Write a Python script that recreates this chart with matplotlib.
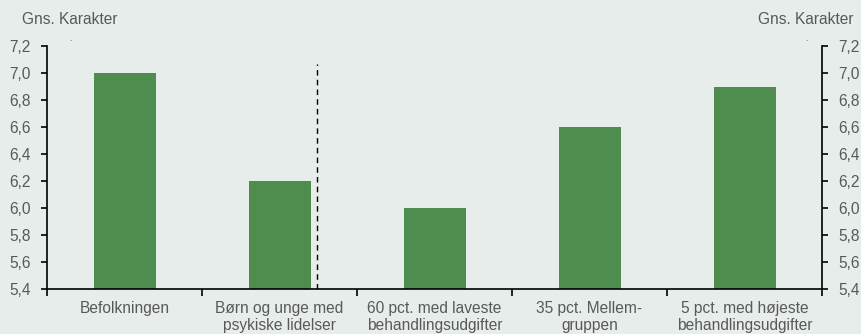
import matplotlib.pyplot as plt
import numpy as np

plt.rcParams["font.family"] = ["Liberation Sans", "DejaVu Sans"]

CATEGORIES = [
    "Befolkningen",
    "Børn og unge med\npsykiske lidelser",
    "60 pct. med laveste\nbehandlingsudgifter",
    "35 pct. Mellem-\ngruppen",
    "5 pct. med højeste\nbehandlingsudgifter",
]
GRADES = [7.0, 6.2, 6.0, 6.6, 6.9]
Y_TICKS = [5.4, 5.6, 5.8, 6.0, 6.2, 6.4, 6.6, 6.8, 7.0, 7.2]
DIVIDER_X = 1.24
DIVIDER_TOP = 7.07

BG = "#e7edeb"
BAR = "#4f8d4e"
TXT = "#595959"
FS = 11.2

fig = plt.figure(figsize=(8.61, 3.34), dpi=100, facecolor=BG)
ax = fig.add_axes([47 / 861, 45 / 334, 775 / 861, 243 / 334], facecolor=BG)

x = np.arange(len(CATEGORIES))
ax.bar(x, GRADES, width=0.4, color=BAR, zorder=2)
ax.vlines(DIVIDER_X, 5.4, DIVIDER_TOP, colors="black", linestyles=(0, (4, 3)), lw=1, zorder=3)

ax.set_xlim(-0.5, len(CATEGORIES) - 0.5)
ax.set_ylim(5.4, 7.2)

# category labels centred, ticks on the boundaries between groups
ax.set_xticks(np.arange(len(CATEGORIES) + 1) - 0.5)
ax.set_xticklabels([])
ax.set_xticks(x, minor=True)
ax.set_xticklabels(CATEGORIES, minor=True, fontsize=FS, color=TXT, linespacing=1.15)
ax.tick_params(axis="x", which="minor", length=0, pad=9)
ax.tick_params(axis="x", which="major", length=5, width=1.2, direction="out")

labels = [f"{v:.1f}".replace(".", ",") for v in Y_TICKS]
ax.set_yticks(Y_TICKS)
ax.set_yticklabels(labels, fontsize=FS, color=TXT)
ax.tick_params(axis="y", length=4.5, width=1.2, direction="out", pad=7)

ax2 = ax.twinx()
ax2.set_ylim(ax.get_ylim())
ax2.set_yticks(Y_TICKS)
ax2.set_yticklabels(labels, fontsize=FS, color=TXT)
ax2.tick_params(axis="y", length=4.5, width=1.2, direction="out", pad=7)

for a in (ax, ax2):
    a.spines["top"].set_visible(False)
    for s in ("left", "right", "bottom"):
        a.spines[s].set_linewidth(1.2)
ax.spines["right"].set_visible(False)
ax2.spines["left"].set_visible(False)
ax2.spines["bottom"].set_visible(False)

fig.text(22 / 861, 1 - 20 / 334, "Gns. Karakter", fontsize=FS, color=TXT, va="center", ha="left")
fig.text(854 / 861, 1 - 20 / 334, "Gns. Karakter", fontsize=FS, color=TXT, va="center", ha="right")
fig.text(70 / 861, 1 - 42 / 334, "·", fontsize=5, color="#333333", va="center", ha="center")
fig.text(806 / 861, 1 - 42 / 334, "·", fontsize=5, color="#333333", va="center", ha="center")

fig.savefig("out.png", dpi=100, facecolor=BG)
